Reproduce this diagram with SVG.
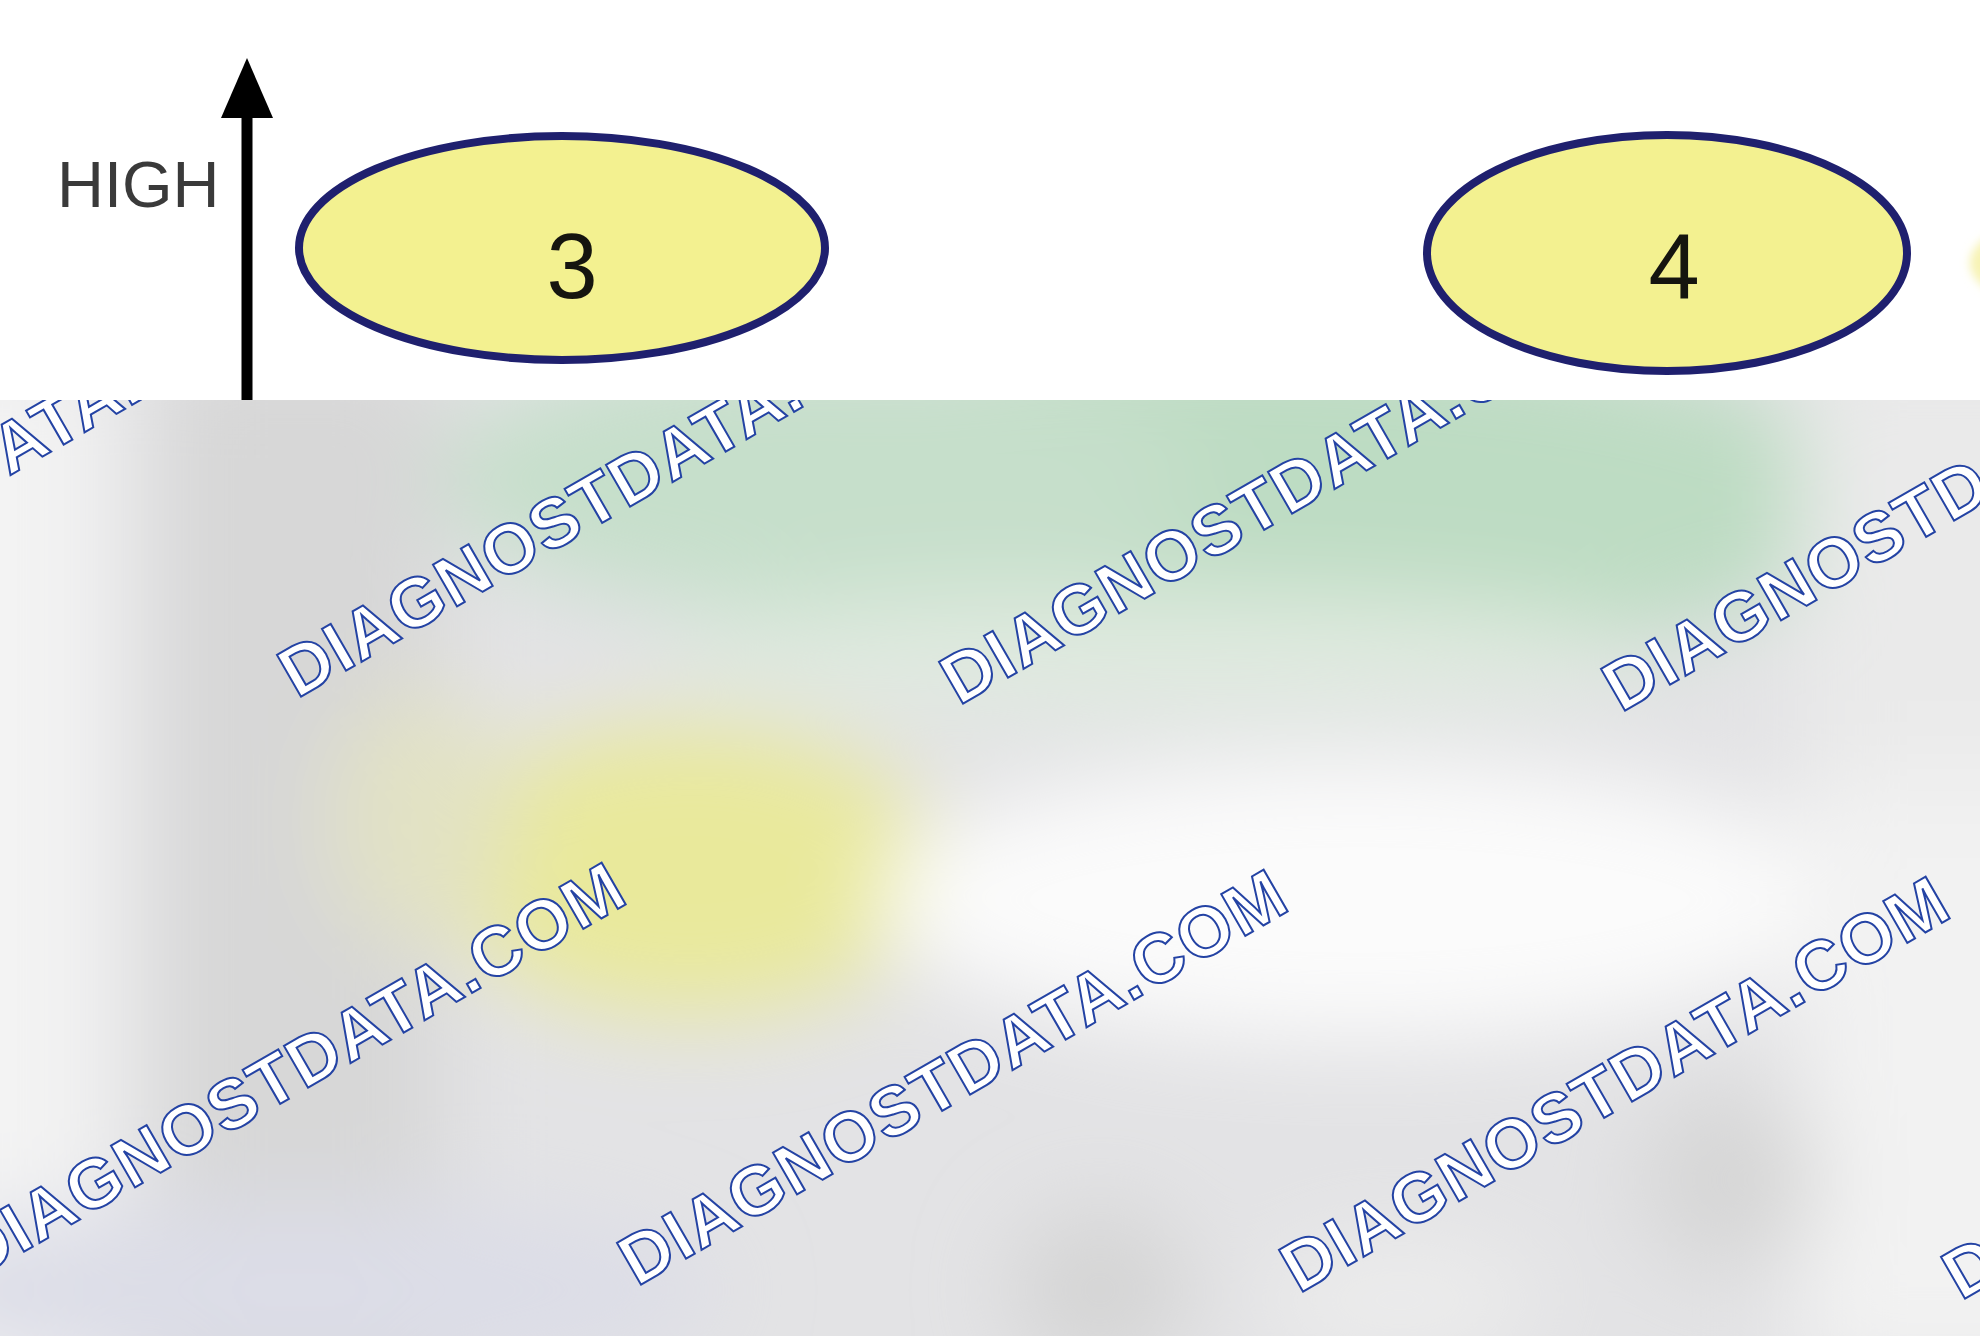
<svg xmlns="http://www.w3.org/2000/svg" width="1980" height="1336" viewBox="0 0 1980 1336">
<defs>
<style>
.node{fill:#f3f190;stroke:#1f206e;stroke-width:8}
.num{font-family:"Liberation Sans",Arial,sans-serif;font-size:92px;fill:#15150f;text-anchor:middle}
.axis-label{font-family:"Liberation Sans",Arial,sans-serif;font-size:65px;fill:#3a3a3a}
.wm{font-family:"Liberation Sans",Arial,sans-serif;font-weight:bold;font-size:70px;fill:#ffffff;stroke:#2443a4;stroke-width:2}
.axis{stroke:#000000;stroke-width:11;fill:none}
</style>
<clipPath id="panel"><rect x="0" y="400" width="1980" height="936"/></clipPath>
<filter id="soft" x="-30%" y="-30%" width="160%" height="160%"><feGaussianBlur stdDeviation="45"/></filter>
<filter id="soft2" x="-50%" y="-50%" width="200%" height="200%"><feGaussianBlur stdDeviation="5"/></filter>
<marker id="arrowhead" markerUnits="userSpaceOnUse" markerWidth="60" markerHeight="52" viewBox="0 0 60 52" refX="0" refY="26" orient="auto">
<path d="M0,0 L60,26 L0,52 Z" fill="#000000"/>
</marker>
<text id="wmtext" class="wm" x="0" y="0" textLength="756" lengthAdjust="spacing">DIAGNOSTDATA.COM</text>
</defs>

<rect x="0" y="0" width="1980" height="1336" fill="#ffffff"/>

<g id="background" clip-path="url(#panel)">
<rect x="0" y="400" width="1980" height="936" fill="#e3e3e5"/>
<g filter="url(#soft)">
<rect x="-150" y="350" width="260" height="1100" fill="#f3f3f3"/>
<rect x="160" y="350" width="280" height="1100" fill="#d7d7d7"/>
<ellipse cx="1250" cy="500" rx="640" ry="170" fill="#bddcc3"/>
<ellipse cx="820" cy="480" rx="380" ry="130" fill="#c6dfcb"/>
<ellipse cx="1150" cy="650" rx="500" ry="60" fill="#dfeadf"/>
<ellipse cx="690" cy="870" rx="250" ry="145" fill="#e9e99b"/>
<ellipse cx="420" cy="820" rx="90" ry="130" fill="#e2e2c4"/>
<ellipse cx="1360" cy="900" rx="480" ry="140" fill="#fbfbfb"/>
<rect x="1800" y="350" width="300" height="500" fill="#eaeaea"/>
<rect x="1800" y="780" width="300" height="600" fill="#f2f2f2"/>
<ellipse cx="1730" cy="1180" rx="90" ry="90" fill="#d6d6d6"/>
<ellipse cx="1100" cy="1290" rx="90" ry="80" fill="#d4d4d4"/>
<ellipse cx="1400" cy="1300" rx="140" ry="60" fill="#ececec"/>
<ellipse cx="300" cy="1290" rx="420" ry="90" fill="#dcdde7"/>
</g>
</g>

<g id="watermarks" clip-path="url(#panel)">
<use href="#wmtext" transform="translate(-365 692) rotate(-30)"/>
<use href="#wmtext" transform="translate(297 699) rotate(-30)"/>
<use href="#wmtext" transform="translate(959 706) rotate(-30)"/>
<use href="#wmtext" transform="translate(1621 713) rotate(-30)"/>
<use href="#wmtext" transform="translate(-25 1280) rotate(-30)"/>
<use href="#wmtext" transform="translate(637 1287) rotate(-30)"/>
<use href="#wmtext" transform="translate(1299 1294) rotate(-30)"/>
<use href="#wmtext" transform="translate(1961 1301) rotate(-30)"/>
</g>

<g id="connectors">
<line class="axis" x1="247" y1="400" x2="247" y2="118" marker-end="url(#arrowhead)"/>
</g>

<g id="label-high">
<text class="axis-label" x="57" y="207">HIGH</text>
</g>

<g id="node-3">
<ellipse class="node" cx="562" cy="248" rx="263" ry="112"/>
<text class="num" x="572" y="298">3</text>
</g>

<g id="node-4">
<ellipse class="node" cx="1667" cy="253" rx="240" ry="118"/>
<text class="num" x="1674" y="298">4</text>
</g>

<g id="node-partial">
<ellipse cx="2050" cy="263" rx="80" ry="42" fill="#f7f3b4" filter="url(#soft2)"/>
</g>
</svg>
